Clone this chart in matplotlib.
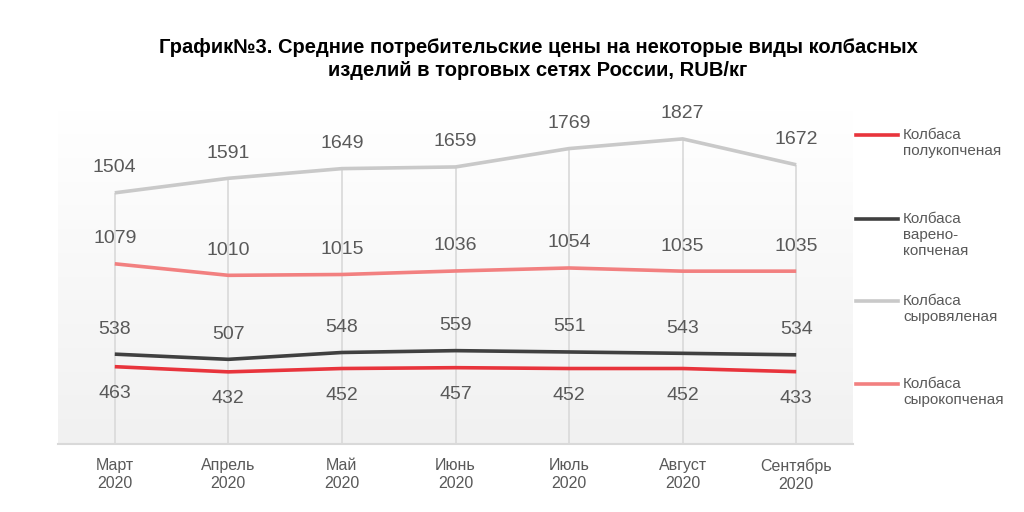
import matplotlib
matplotlib.use("Agg")
import matplotlib.pyplot as plt
import numpy as np
from matplotlib.lines import Line2D

months = ["Март\n2020", "Апрель\n2020", "Май\n2020", "Июнь\n2020",
          "Июль\n2020", "Август\n2020", "Сентябрь\n2020"]
polukopchenaya = [463, 432, 452, 457, 452, 452, 433]
vareno_kopchenaya = [538, 507, 548, 559, 551, 543, 534]
syrovyalenaya = [1504, 1591, 1649, 1659, 1769, 1827, 1672]
syrokopchenaya = [1079, 1010, 1015, 1036, 1054, 1035, 1035]

series = [
    ("Колбаса\nполукопченая", polukopchenaya, "#e8343c", "below"),
    ("Колбаса\nварено-\nкопченая", vareno_kopchenaya, "#404040", "above"),
    ("Колбаса\nсыровяленая", syrovyalenaya, "#c9c9c9", "above"),
    ("Колбаса\nсырокопченая", syrokopchenaya, "#f28080", "above"),
]

plt.rcParams['font.family'] = ['Liberation Sans', 'DejaVu Sans']
W, H = 1024, 512
fig = plt.figure(figsize=(W / 100, H / 100), dpi=100)
ax = fig.add_axes([58 / W, 1 - 444 / H, (853 - 58) / W, (444 - 110) / H])

x = np.arange(len(months))
ax.set_xlim(-0.5, len(months) - 0.5)
ax.set_ylim(0, 2000)

# gradient background
grad = np.linspace(1.0, 0.0, 256).reshape(-1, 1)
top = np.array([1.0, 1.0, 1.0])
bot = np.array([0.945, 0.945, 0.945])
img = top * grad[..., None] + bot * (1 - grad[..., None])
ax.imshow(img, extent=(-0.5, len(months) - 0.5, 0, 2000), aspect='auto', zorder=0)

# drop lines
tops = np.max(np.array([s[1] for s in series]), axis=0)
ax.vlines(x, 0, tops, color="#d9d9d9", lw=1.2, zorder=1)

for name, vals, col, pos in series:
    ax.plot(x, vals, color=col, lw=2.6, zorder=3, solid_capstyle='butt')
    for xi, v in zip(x, vals):
        dy = 25 if pos == "above" else -27
        ax.annotate(str(v), (xi, v), xytext=(0, dy * 0.72), textcoords='offset points',
                    ha='center', va='center', fontsize=14, color="#595959", zorder=4)

for s in ['top', 'right', 'left']:
    ax.spines[s].set_visible(False)
ax.spines['bottom'].set_color("#d9d9d9")
ax.spines['bottom'].set_linewidth(1.5)
ax.set_yticks([])
ax.set_xticks(x)
ax.set_xticklabels(months, fontsize=11.5, color="#595959", linespacing=1.3)
ax.tick_params(axis='x', length=0, pad=10)

# legend
leg_y = [135, 219, 301, 384]
for (name, vals, col, pos), yy in zip(series, leg_y):
    fy = 1 - yy / H
    fig.add_artist(Line2D([856 / W, 898 / W], [fy, fy], color=col, lw=2.6,
                          transform=fig.transFigure))
    fig.text(903 / W, 1 - (yy - 7) / H, name, ha='left', va='top', fontsize=11,
             color="#595959", linespacing=1.2)

fig.text(538 / W, 1 - 59 / H,
         "График№3. Средние потребительские цены на некоторые виды колбасных\nизделий в торговых сетях России, RUB/кг",
         ha='center', va='center', fontsize=14.5, fontweight='bold',
         color="#000000", linespacing=1.25)

fig.savefig("out.png", dpi=100, facecolor="white")
